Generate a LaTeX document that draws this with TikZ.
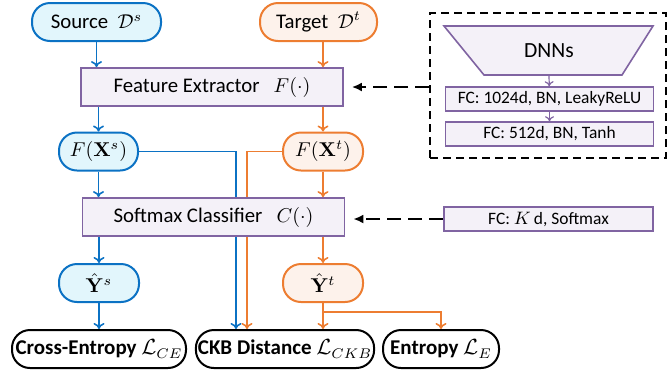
\documentclass[tikz,border=0pt]{standalone}
\usepackage{amsmath}
\usepackage{amssymb}
\usepackage[no-math]{fontspec}
\setmainfont{Carlito}
\usetikzlibrary{arrows.meta,backgrounds}

\definecolor{srcblue}{HTML}{0B72C4}
\definecolor{srcfill}{HTML}{E2F6FC}
\definecolor{tgtorange}{HTML}{ED7D31}
\definecolor{tgtfill}{HTML}{FDF2EB}
\definecolor{blockpurple}{HTML}{8064A2}
\definecolor{blockfill}{HTML}{F4F1F8}

\begin{document}
\begin{tikzpicture}[x=0.5pt, y=-0.5pt,
    font=\fontsize{10.4}{12.5}\selectfont,
    srcnode/.style={draw=srcblue, fill=srcfill, line width=1pt, rounded corners=9pt, minimum height=19pt, inner sep=1pt},
    tgtnode/.style={draw=tgtorange, fill=tgtfill, line width=1pt, rounded corners=9pt, minimum height=19pt, inner sep=1pt},
    block/.style={draw=blockpurple, fill=blockfill, line width=0.9pt, minimum width=131pt, minimum height=19pt},
    loss/.style={draw=black, fill=white, line width=1pt, rounded corners=9pt, minimum height=19pt, inner sep=1pt, font=\fontsize{10.5}{12.5}\selectfont\bfseries},
    layer/.style={draw=blockpurple, fill=blockfill, line width=0.8pt, minimum width=104pt, minimum height=12pt, inner sep=1pt, font=\fontsize{8.7}{10}\selectfont},
    barrow/.style={srcblue, line width=0.8pt, -{To[length=3pt,width=5.5pt]}},
    oarrow/.style={tgtorange, line width=0.8pt, -{To[length=3pt,width=5.5pt]}},
    parrow/.style={blockpurple, line width=0.6pt, -{To[length=2.5pt,width=4.5pt]}},
    dasharrow/.style={line width=0.9pt, dash pattern=on 7pt off 3.5pt, -{Latex[length=5pt,width=4.5pt]}},
    dashbox/.style={draw, line width=0.9pt, dash pattern=on 4pt off 2.5pt}
  ]
  \useasboundingbox (0,0) rectangle (672,371);

  % Define the inputs
  \node[srcnode, minimum width=64.5pt] (src) at (96.5,22) {Source~~$\mathcal{D}^s$};
  \node[tgtnode, minimum width=58.5pt] (tgt) at (318.5,22) {Target~~$\mathcal{D}^t$};

  % Define the shared blocks
  \node[block] (fe) at (212,87) {Feature Extractor~~~$F(\cdot)$};
  \node[block] (sc) at (213.5,217) {Softmax Classifier~~~$C(\cdot)$};

  % Define the features and predictions
  \node[srcnode, minimum width=39.5pt] (fxs) at (98.5,151.5) {$F(\mathbf{X}^s)$};
  \node[tgtnode, minimum width=40pt] (fxt) at (323,151.5) {$F(\mathbf{X}^t)$};
  \node[srcnode, minimum width=40pt] (ys) at (99,283) {$\hat{\mathbf{Y}}^s$};
  \node[tgtnode, minimum width=40pt] (yt) at (323,283) {$\hat{\mathbf{Y}}^t$};

  % Define the losses
  \node[loss, minimum width=87pt] (ce) at (99,349) {Cross-Entropy $\mathcal{L}_{CE}$};
  \node[loss, minimum width=87pt] (ckb) at (285,349) {CKB Distance $\mathcal{L}_{CKB}$};
  \node[loss, minimum width=58pt] (ent) at (441,349) {Entropy $\mathcal{L}_{E}$};

  % Define the network details
  \node[dashbox, minimum width=118pt, minimum height=72.5pt] (dnnbox) at (548,85.5) {};
  \draw[blockpurple, fill=blockfill, line width=0.8pt] (444,26) -- (653,26) -- (622,75) -- (484,75) -- cycle;
  \node[font=\fontsize{10.8}{12.5}\selectfont] (dnn) at (549,51) {DNNs};
  \coordinate (dnnbot) at (549,75);
  \node[layer] (fc1) at (549.5,99) {FC: 1024d, BN, LeakyReLU};
  \node[layer] (fc2) at (549.5,134) {FC: 512d, BN, Tanh};
  \node[layer, minimum width=104.5pt] (fck) at (548.5,219) {FC: $K\,$d, Softmax};
  \coordinate (scr) at ([xshift=4pt]sc.east);

  % Define the edges (source)
  \draw[barrow] (src) -- (src |- fe.north);
  \draw[barrow] (fe.south -| fxs) -- (fxs);
  \draw[barrow] (fxs) -- (fxs |- sc.north);
  \draw[barrow] (sc.south -| ys) -- (ys);
  \draw[barrow] (ys) -- (ys |- ce.north);

  % Define the edges (target)
  \draw[oarrow] (tgt.south -| fxt) -- (fxt |- fe.north);
  \draw[oarrow] (fe.south -| fxt) -- (fxt);
  \draw[oarrow] (fxt) -- (fxt |- sc.north);
  \draw[oarrow] (sc.south -| yt) -- (yt);
  \draw[oarrow] (yt) -- (yt |- ckb.north);
  \draw[oarrow] (yt.south) -- ++(0,-4.5pt) -| (ent.north);

  % Features passing behind the classifier
  \begin{scope}[on background layer]
    \draw[barrow] (fxs.east) -| ([xshift=-24.5pt]ckb.north);
    \draw[oarrow] (fxt.west) -| ([xshift=-19pt]ckb.north);
  \end{scope}

  % Define the detail links
  \draw[parrow] (dnnbot) -- (fc1);
  \draw[parrow] (fc1) -- (fc2);
  \draw[dasharrow] (dnnbox.west |- fe.east) -- ([xshift=4pt]fe.east);
  \draw[dasharrow] (fck.west) -- (scr |- fck.west);

\end{tikzpicture}
\end{document}
